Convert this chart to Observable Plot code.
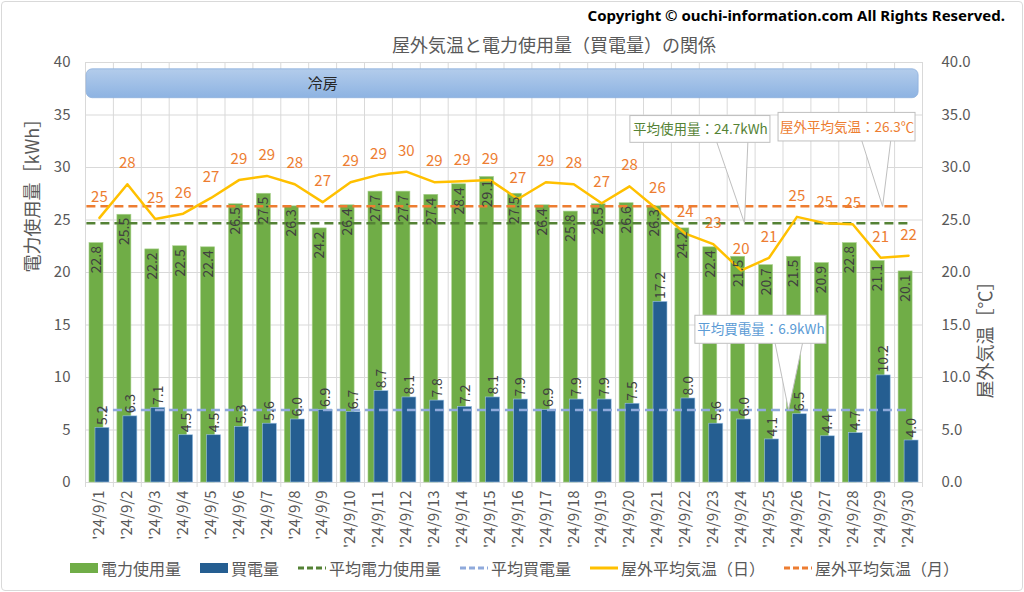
<!DOCTYPE html>
<html>
<head>
<meta charset="utf-8">
<script src="https://cdn.jsdelivr.net/npm/d3@7"></script>
<script src="https://cdn.jsdelivr.net/npm/@observablehq/plot@0.6"></script>
<style>
  body { margin: 0; background: #fff; }
  #wrap { position: relative; width: 1024px; height: 592px; overflow: hidden; background: #fff;
          font-family: "Noto Sans CJK JP", "Noto Sans", sans-serif; }
  #chart { position: absolute; left: 0; top: 0; }
  #border { position: absolute; left: 1px; top: 1px; width: 1020px; height: 588px;
            border: 1px solid #D9D9D9; border-radius: 4px; pointer-events: none; }
  #copy { position: absolute; right: 19px; top: 5px; font-family: "Noto Sans", sans-serif;
          font-weight: bold; font-size: 15px; color: #000; white-space: nowrap; }
  #title { position: absolute; left: 392px; top: 31px; font-size: 18px; color: #595959; white-space: nowrap; }
  #legend { position: absolute; left: 70px; top: 556px; display: flex; align-items: center; gap: 19px;
            font-size: 16px; color: #595959; white-space: nowrap; }
  #legend .item { display: flex; align-items: center; gap: 3px; }
</style>
</head>
<body>
<div id="wrap">
  <div id="chart"></div>
  <div id="copy"></div>
  <div id="title"></div>
  <div id="legend"></div>
  <div id="border"></div>
</div>
<script>
// ---- data ----
const days = d3.range(1, 31);
const dateLabels = days.map(d => `'24/9/${d}`);
const usage = [22.8, 25.5, 22.2, 22.5, 22.4, 26.5, 27.5, 26.3, 24.2, 26.4,
               27.7, 27.7, 27.4, 28.4, 29.1, 27.5, 26.4, 25.8, 26.5, 26.6,
               26.3, 24.2, 22.4, 21.5, 20.7, 21.5, 20.9, 22.8, 21.1, 20.1];
const purchase = [5.2, 6.3, 7.1, 4.5, 4.5, 5.3, 5.6, 6.0, 6.9, 6.7,
                  8.7, 8.1, 7.8, 7.2, 8.1, 7.9, 6.9, 7.9, 7.9, 7.5,
                  17.2, 8.0, 5.6, 6.0, 4.1, 6.5, 4.4, 4.7, 10.2, 4.0];
const temperature = [25.2, 28.4, 25.1, 25.6, 27.1, 28.8, 29.2, 28.4, 26.7, 28.6,
                     29.3, 29.6, 28.6, 28.7, 28.8, 27.0, 28.6, 28.4, 26.6, 28.2,
                     26.0, 23.7, 22.7, 20.2, 21.4, 25.3, 24.7, 24.6, 21.4, 21.6];
const avgUsage = 24.7;
const avgPurchase = 6.9;
const avgTemperature = 26.3;
const yTicks = d3.range(0, 41, 5);
const seasons = [{label: "冷房", from: 1, to: 30}];

const titleText = "屋外気温と電力使用量（買電量）の関係";
const copyrightText = "Copyright © ouchi-information.com All Rights Reserved.";
const leftAxisTitle = "電力使用量［kWh］";
const rightAxisTitle = "屋外気温［℃］";

const colors = {
  usage: "#70AD47", purchase: "#255E91", avgUsage: "#548235",
  avgPurchase: "#8FAADC", temp: "#FFC000", avgTemp: "#ED7D31"
};

const legendItems = [
  {label: "電力使用量", kind: "bar", color: colors.usage},
  {label: "買電量", kind: "bar", color: colors.purchase},
  {label: "平均電力使用量", kind: "dash", color: colors.avgUsage},
  {label: "平均買電量", kind: "dash", color: colors.avgPurchase},
  {label: "屋外平均気温（日）", kind: "line", color: colors.temp},
  {label: "屋外平均気温（月）", kind: "dash", color: colors.avgTemp}
];

// annotation callouts (in data units)
const callouts = [
  {id: "u", text: `平均使用量：${avgUsage}kWh`, color: "#548235", tipDay: 24.12, tipValue: avgUsage,
   baseFrom: 22.97, baseTo: 24.26, boxLeft: 20.03, boxRight: 25.05, boxTop: 34.9, boxBottom: 32.35},
  {id: "t", text: `屋外平均気温：${avgTemperature}℃`, color: "#ED7D31", tipDay: 29.07, tipValue: avgTemperature,
   baseFrom: 28.17, baseTo: 29.42, boxLeft: 25.34, boxRight: 30.25, boxTop: 35.2, boxBottom: 32.48},
  {id: "b", text: `平均買電量：${avgPurchase}kWh`, color: "#5B9BD5", tipDay: 25.7, tipValue: avgPurchase,
   baseFrom: 25.12, baseTo: 26.3, boxLeft: 22.36, boxRight: 27.06, boxTop: 15.88, boxBottom: 13.21}
];

// ---- derived tables ----
const rows = days.map((d, i) => ({day: d, usage: usage[i], purchase: purchase[i], temp: temperature[i]}));
const bounds = d3.range(0.5, 31, 1);
const pointerPts = callouts.flatMap(c => [
  {id: c.id, x: c.baseFrom, y: (c.boxTop + c.boxBottom) / 2},
  {id: c.id, x: c.tipDay, y: c.tipValue},
  {id: c.id, x: c.baseTo, y: (c.boxTop + c.boxBottom) / 2}
]);

const gradientDefs = () => {
  const g = document.createElementNS("http://www.w3.org/2000/svg", "g");
  g.innerHTML = `<defs><linearGradient id="coolGrad" x1="0" y1="0" x2="0" y2="1">
    <stop offset="0" stop-color="#B3CCEB"/><stop offset="1" stop-color="#8DB3E2"/></linearGradient></defs>`;
  return g;
};

const GREEN_OFF = -0.106, BLUE_OFF = 0.109, HALF = 0.251;

const chart = Plot.plot({
  width: 1024,
  height: 592,
  marginLeft: 85,
  marginRight: 102,
  marginTop: 62,
  marginBottom: 110,
  style: {fontFamily: "'Noto Sans CJK JP', 'Noto Sans', sans-serif", fontSize: "15px", color: "#595959", background: "transparent", overflow: "visible"},
  x: {type: "linear", domain: [0.5, 30.5], axis: null},
  y: {domain: [0, 40], axis: null},
  marks: [
    gradientDefs,
    Plot.gridY(yTicks, {stroke: "#D9D9D9", strokeOpacity: 1}),
    Plot.gridX(bounds, {stroke: "#D9D9D9", strokeOpacity: 1}),
    Plot.axisX(bounds, {tickSize: 5, tickFormat: () => "", stroke: "#D9D9D9", color: "#D9D9D9"}),
    Plot.axisX(days, {tickSize: 0, tickPadding: 8, tickRotate: -90, tickFormat: d => dateLabels[d - 1], fontSize: 15, label: null}),
    Plot.axisY(yTicks, {anchor: "left", tickSize: 0, tickPadding: 15, fontSize: 15, label: null}),
    Plot.axisY(yTicks, {anchor: "right", tickSize: 0, tickPadding: 19, fontSize: 15, label: null, tickFormat: d => d.toFixed(1)}),
    Plot.text([leftAxisTitle], {frameAnchor: "left", rotate: -90, dx: -52, fontSize: 18, fill: "#595959"}),
    Plot.text([rightAxisTitle], {frameAnchor: "right", rotate: -90, dx: 64, fontSize: 18, fill: "#595959"}),
    // cooling season band
    Plot.rect(seasons, {x1: d => d.from - 0.46, x2: d => d.to + 0.36, y1: 36.6, y2: 39.35, fill: "url(#coolGrad)", stroke: "#8EB0DC", strokeWidth: 0.8, rx: 6}),
    Plot.text(seasons, {x: 9.0, y: 37.95, text: "label", fontSize: 15, fill: "#262626"}),
    // bars
    Plot.rectY(rows, {x1: d => d.day + GREEN_OFF - HALF, x2: d => d.day + GREEN_OFF + HALF, y: "usage", fill: colors.usage, stroke: "#A9D18E", strokeWidth: 0.6}),
    Plot.rectY(rows, {x1: d => d.day + BLUE_OFF - HALF, x2: d => d.day + BLUE_OFF + HALF, y: "purchase", fill: colors.purchase, stroke: "#9DC3E6", strokeWidth: 0.6}),
    // average lines
    Plot.ruleY([avgUsage], {x1: days[0] - 0.45, x2: days[days.length - 1], stroke: colors.avgUsage, strokeWidth: 2.5, strokeDasharray: "9,5"}),
    Plot.ruleY([avgTemperature], {x1: days[0] - 0.45, x2: days[days.length - 1], stroke: colors.avgTemp, strokeWidth: 2.5, strokeDasharray: "9,5"}),
    Plot.ruleY([avgPurchase], {x1: days[0], x2: days[days.length - 1], stroke: colors.avgPurchase, strokeWidth: 2.5, strokeDasharray: "9,5"}),
    // temperature line
    Plot.line(rows, {x: "day", y: "temp", stroke: colors.temp, strokeWidth: 2.5}),
    // data labels
    Plot.text(rows, {x: d => d.day + GREEN_OFF, y: "usage", text: d => d.usage.toFixed(1), rotate: -90, textAnchor: "end", dy: 3, fontSize: 14, fill: "#404040"}),
    Plot.text(rows, {x: d => d.day + BLUE_OFF, y: "purchase", text: d => d.purchase.toFixed(1), rotate: -90, textAnchor: "start", dy: -3, fontSize: 14, fill: "#404040"}),
    Plot.text(rows, {x: "day", y: "temp", text: d => d.temp.toFixed(0), dy: -21, fontSize: 15, fill: colors.avgTemp}),
    // callouts
    Plot.line(pointerPts, {x: "x", y: "y", z: "id", fill: "white", stroke: "#BFBFBF", strokeWidth: 1}),
    Plot.rect(callouts, {x1: "boxLeft", x2: "boxRight", y1: "boxBottom", y2: "boxTop", fill: "white", stroke: "#BFBFBF", strokeWidth: 1}),
    Plot.text(callouts, {x: d => (d.boxLeft + d.boxRight) / 2, y: d => (d.boxTop + d.boxBottom) / 2, text: "text", fill: d => d.color, fontSize: 13.5})
  ]
});
document.getElementById("chart").appendChild(chart);

document.getElementById("copy").textContent = copyrightText;
document.getElementById("title").textContent = titleText;

const legend = document.getElementById("legend");
for (const item of legendItems) {
  const el = document.createElement("div");
  el.className = "item";
  let sw;
  if (item.kind === "bar") {
    sw = `<svg width="28" height="12"><rect x="0" y="1" width="28" height="10" fill="${item.color}"/></svg>`;
  } else if (item.kind === "dash") {
    sw = `<svg width="28" height="12"><line x1="0" y1="6" x2="28" y2="6" stroke="${item.color}" stroke-width="3" stroke-dasharray="6,3"/></svg>`;
  } else {
    sw = `<svg width="28" height="12"><line x1="0" y1="6" x2="28" y2="6" stroke="${item.color}" stroke-width="3"/></svg>`;
  }
  el.innerHTML = sw + `<span>${item.label}</span>`;
  legend.appendChild(el);
}
</script>
</body>
</html>
